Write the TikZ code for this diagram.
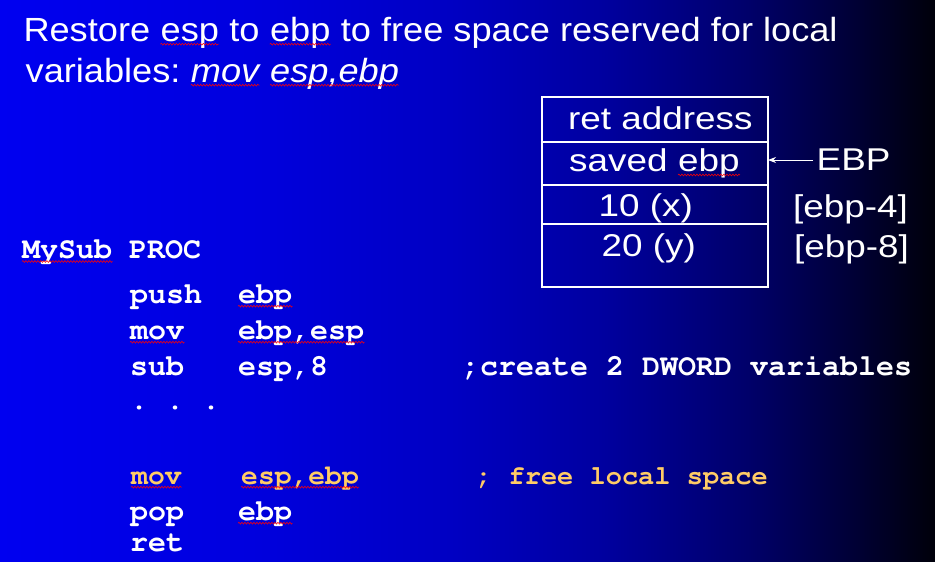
\documentclass[tikz,border=0pt]{standalone}
\usepackage[T1]{fontenc}
\usepackage{fontspec}
\setmainfont{Liberation Sans}
\newfontfamily\titlefont[FakeStretch=1.08]{Liberation Sans}
\newfontfamily\boxfont[FakeStretch=1.17]{Liberation Sans}
% bold Courier (URW Nimbus Mono) for the assembly listing
\newcommand\codefont{\fontencoding{T1}\fontfamily{pcr}\fontseries{b}\fontshape{n}\selectfont}
\usetikzlibrary{arrows.meta,decorations.pathmorphing}

% slide background: bright blue fading to black towards the right
\definecolor{bg0}{RGB}{0,0,240}
\definecolor{bg1}{RGB}{0,0,222}
\definecolor{bg2}{RGB}{0,0,195}
\definecolor{bg3}{RGB}{0,0,160}
\definecolor{bg4}{RGB}{0,0,105}
\definecolor{bg5}{RGB}{0,0,55}
\definecolor{bg6}{RGB}{0,0,10}
\definecolor{codeyellow}{RGB}{255,204,102}
\pgfdeclarehorizontalshading{slidebg}{100bp}{color(0bp)=(bg0); color(25bp)=(bg0);
  color(38.4bp)=(bg1); color(49.1bp)=(bg2); color(57.1bp)=(bg3);
  color(65.1bp)=(bg4); color(70.5bp)=(bg5); color(75bp)=(bg6); color(100bp)=(bg6)}

\tikzset{
  txt/.style={anchor=base west, inner sep=0pt, text=white},
  ttl/.style={txt, font=\titlefont\fontsize{33.5}{40}\selectfont},
  ttlit/.style={txt, font=\titlefont\itshape\fontsize{33.5}{40}\selectfont},
  boxtxt/.style={txt, font=\boxfont\fontsize{31.5}{38}\selectfont},
  code/.style={txt, font=\codefont\fontsize{30}{36}\selectfont},
  codehi/.style={txt, text=codeyellow, font=\codefont\fontsize{28}{34}\selectfont},
  cmthi/.style={txt, text=codeyellow, font=\codefont\fontsize{27}{32}\selectfont},
  cell/.style={draw=white, line width=1.3pt, minimum width=226pt, inner sep=0pt, outer sep=0pt},
  pointer/.style={draw=white, line width=0.8pt, -{Stealth[length=8pt,width=6pt]}},
  squig/.style={draw=red, line width=0.55pt, decorate,
    decoration={snake, amplitude=0.9pt, segment length=3pt}}
}
% red wavy underline below a word node
\newcommand\wavy[2][3.2pt]{\draw[squig] ([yshift=-#1]#2.base west) -- ([yshift=-#1]#2.base east);}
% word space that survives at the end of a node
\newcommand\gap{\ \null}

\begin{document}
\begin{tikzpicture}[x=1pt, y=-1pt]
\useasboundingbox (0,0) rectangle (935,562);
\shade[shading=slidebg] (0,0) rectangle (935,562);

% heading
\node[ttl] (t1a) at (23.3,41) {Restore\gap};
\node[ttl] (t1b) at (t1a.base east) {esp};
\node[ttl] (t1c) at (t1b.base east) {\ to\gap};
\node[ttl] (t1d) at (t1c.base east) {ebp};
\node[ttl] (t1e) at (t1d.base east) {\ to free space reserved for local};
\node[ttl] (t2a) at (25.5,82) {variables:\gap};
\node[ttlit] (t2b) at (t2a.base east) {mov};
\node[ttlit] (t2c) at (t2b.base east) {\gap};
\node[ttlit] (t2d) at (t2c.base east) {esp,ebp};
\wavy{t1b}\wavy{t1d}\wavy{t2b}\wavy{t2d}

% stack frame
\node[cell, minimum height=45pt, anchor=north west] (r1) at (542,97) {};
\node[cell, minimum height=43pt, anchor=north] (r2) at (r1.south) {};
\node[cell, minimum height=39pt, anchor=north] (r3) at (r2.south) {};
\node[cell, minimum height=63pt, anchor=north] (r4) at (r3.south) {};

\node[boxtxt] (retaddr) at (568,129.3) {ret address};
\node[boxtxt] (saved) at (569,171) {saved\gap};
\node[boxtxt] (savedebp) at (saved.base east) {ebp};
\node[boxtxt] (xval) at (598.5,216.7) {10 (x)};
\node[boxtxt] (yval) at (601.5,256.7) {20 (y)};
\wavy[4pt]{savedebp}

\node[boxtxt, anchor=west] (ebplbl) at (816.5,160) {EBP};
\node[boxtxt] (off4) at (793,217) {[ebp-4]};
\node[boxtxt] (off8) at (794,257) {[ebp-8]};
\draw[pointer] ([xshift=-3.5pt]ebplbl.west) -- (r2.east |- ebplbl.west);

% assembly listing
\node[code] (name) at (22,258) {MySub};
\node[code] (proc) at (129,258) {PROC};
\node[code] (op1) at (130,303) {push};
\node[code] (arg1) at (238,303) {ebp};
\node[code] (op2) at (130,339) {mov};
\node[code] (arg2) at (238,339) {ebp,esp};
\node[code] (op3) at (130,375) {sub};
\node[code] (arg3) at (238,375) {esp,8};
\node[code] (cmt3) at (462,375) {;create 2 DWORD variables};
\node[code] (dots) at (130,409) {.\ .\ .};
\node[codehi] (op4) at (131,484) {mov};
\node[codehi] (arg4) at (241,484) {esp,ebp};
\node[cmthi] (cmt4) at (476,484) {; free local space};
\node[code] (op5) at (130,520) {pop};
\node[code] (arg5) at (238,520) {ebp};
\node[code] (op6) at (130,551) {ret};
\wavy[3.5pt]{name}\wavy{arg1}\wavy{op2}\wavy{arg2}
\wavy{op4}\wavy{arg4}\wavy{arg5}
\end{tikzpicture}
\end{document}
